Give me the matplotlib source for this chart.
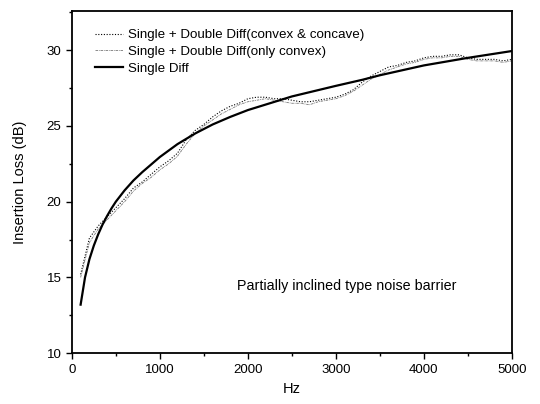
import matplotlib
matplotlib.use("Agg")
import matplotlib.pyplot as plt
from matplotlib.ticker import MultipleLocator

plt.rcParams['font.family'] = ['Liberation Sans', 'DejaVu Sans']

# Single diffraction (smooth)
single_x = [100, 150, 200, 250, 300, 350, 400, 450, 500, 600, 700, 800, 900, 1000, 1200, 1400, 1600,
            1800, 2000, 2250, 2500, 2750, 3000, 3300, 3500, 4000, 4500, 5000]
single_y = [13.2, 15.0, 16.2, 17.1, 17.85, 18.5, 19.05, 19.55, 20.0, 20.75, 21.4, 21.95, 22.45, 22.95,
            23.8, 24.5, 25.1, 25.6, 26.05, 26.5, 26.95, 27.3, 27.65, 28.05, 28.35, 29.0, 29.5, 29.95]

freq = [100, 200, 300, 400, 500, 600, 700, 800, 900, 1000,
        1100, 1200, 1300, 1400, 1500, 1600, 1700, 1800, 1900, 2000,
        2100, 2200, 2300, 2400, 2500, 2600, 2700, 2800, 2900, 3000,
        3100, 3200, 3300, 3400, 3500, 3600, 3700, 3800, 3900, 4000,
        4100, 4200, 4300, 4400, 4500, 4600, 4700, 4800, 4900, 5000]

# Single + Double Diff (convex & concave)
cc_y = [15.2, 17.6, 18.4, 19.0, 19.6, 20.2, 20.9, 21.3, 21.8, 22.3,
        22.7, 23.2, 24.1, 24.7, 25.1, 25.6, 26.0, 26.3, 26.5, 26.8,
        26.9, 26.9, 26.8, 26.8, 26.7, 26.6, 26.6, 26.7, 26.8, 26.9,
        27.1, 27.4, 27.9, 28.3, 28.6, 28.9, 29.0, 29.2, 29.3, 29.5,
        29.6, 29.6, 29.7, 29.7, 29.5, 29.4, 29.4, 29.4, 29.3, 29.4]

# Single + Double Diff (only convex)
cv_y = [15.0, 17.3, 18.2, 18.8, 19.4, 20.0, 20.7, 21.2, 21.6, 22.1,
        22.5, 23.0, 23.8, 24.5, 25.0, 25.4, 25.8, 26.1, 26.4, 26.6,
        26.7, 26.8, 26.7, 26.6, 26.5, 26.5, 26.4, 26.6, 26.7, 26.8,
        27.0, 27.3, 27.7, 28.1, 28.4, 28.7, 28.9, 29.1, 29.2, 29.4,
        29.5, 29.5, 29.6, 29.6, 29.4, 29.3, 29.3, 29.3, 29.2, 29.3]

labels = ["Single + Double Diff(convex & concave)",
          "Single + Double Diff(only convex)",
          "Single Diff"]

fig = plt.figure(figsize=(5.40, 4.04), dpi=100)
ax = fig.add_axes([0.133, 0.126, 0.815, 0.847])

ax.plot(freq, cc_y, color='black', linestyle=(0, (1, 1.5)), linewidth=0.8, label=labels[0])
ax.plot(freq, cv_y, color='#777777', linestyle=(0, (3, 1, 1, 1)), linewidth=0.6, label=labels[1])
ax.plot(single_x, single_y, color='black', linestyle='-', linewidth=1.6, label=labels[2])

ax.set_xlim(0, 5000)
ax.set_ylim(10, 32.6)
ax.xaxis.set_major_locator(MultipleLocator(1000))
ax.xaxis.set_minor_locator(MultipleLocator(500))
ax.yaxis.set_major_locator(MultipleLocator(5))
ax.yaxis.set_minor_locator(MultipleLocator(2.5))
ax.tick_params(which='both', direction='out', labelsize=9.5, top=False, right=False)
ax.tick_params(which='major', length=4, width=1)
ax.tick_params(which='minor', length=2.5, width=1)
for s in ax.spines.values():
    s.set_linewidth(1.3)

ax.set_xlabel("Hz", fontsize=10.5, labelpad=5)
ax.set_ylabel("Insertion Loss (dB)", fontsize=10.5, labelpad=14)

ax.text(1875, 14.4, "Partially inclined type noise barrier", fontsize=10.3, va='center', ha='left')

leg = ax.legend(loc='upper left', frameon=False, fontsize=9.6, handlelength=2.1,
                handletextpad=0.4, labelspacing=0.32, borderaxespad=0, borderpad=0,
                bbox_to_anchor=(0.052, 0.947))

fig.savefig("out.png", dpi=100)
